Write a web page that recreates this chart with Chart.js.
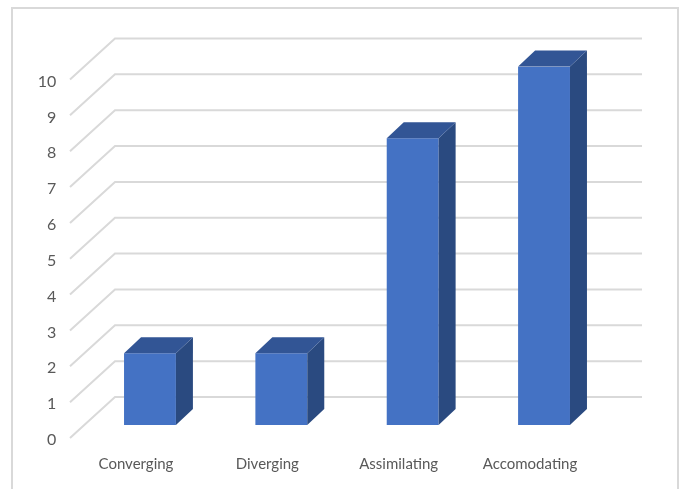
<!DOCTYPE html>
<html>
<head>
<meta charset="utf-8">
<style>
  html, body { margin: 0; padding: 0; background: #fff; overflow: hidden; }
  #box { width: 681px; height: 489px; }
</style>
</head>
<body>
<div id="box"><canvas id="estilos"></canvas></div>
<script src="https://cdn.jsdelivr.net/npm/chart.js@4"></script>
<script>
const categories = ['Converging', 'Diverging', 'Assimilating', 'Accomodating'];
const values = [2, 2, 8, 10];
const yTicks = [0, 1, 2, 3, 4, 5, 6, 7, 8, 9, 10];

// fake 3D depth in px
const depthX = 17;
const depthY = 16;

// border round the picture, open at the bottom
const frame = {
    id: 'frame',
    beforeDraw(chart) {
        const c = chart.ctx;
        c.save();
        c.strokeStyle = '#d9d9d9';
        c.lineWidth = 2;
        c.beginPath();
        c.moveTo(12, 489);
        c.lineTo(12, 8);
        c.lineTo(678, 8);
        c.lineTo(678, 489);
        c.stroke();
        c.restore();
    }
};

// floor lines and back wall, from the y scale
const wall = {
    id: 'wall',
    beforeDatasetsDraw(chart) {
        const c = chart.ctx;
        const y = chart.scales.y;
        c.save();
        c.strokeStyle = '#d9d9d9';
        c.lineWidth = 2;
        yTicks.forEach(t => {
            const py = y.getPixelForValue(t);
            c.beginPath();
            c.moveTo(70, py + 13);
            c.lineTo(115, py - 28);
            c.lineTo(642, py - 28);
            c.stroke();
        });
        c.restore();
    }
};

// side and top faces of each bar
const faces = {
    id: 'faces',
    afterDatasetsDraw(chart) {
        const c = chart.ctx;
        chart.getDatasetMeta(0).data.forEach(bar => {
            const l = bar.x - bar.width / 2;
            const r = bar.x + bar.width / 2;
            c.fillStyle = '#2a4a80';
            c.beginPath();
            c.moveTo(r, bar.y);
            c.lineTo(r + depthX, bar.y - depthY);
            c.lineTo(r + depthX, bar.base - depthY);
            c.lineTo(r, bar.base);
            c.closePath();
            c.fill();
            c.fillStyle = '#325595';
            c.beginPath();
            c.moveTo(l, bar.y);
            c.lineTo(l + depthX, bar.y - depthY);
            c.lineTo(r + depthX, bar.y - depthY);
            c.lineTo(r, bar.y);
            c.closePath();
            c.fill();
        });
    }
};

const ctx = document.getElementById('estilos').getContext('2d');

new Chart(ctx, {
    type: 'bar',
    data: {
        labels: categories,
        datasets: [{
            data: values,
            backgroundColor: '#4472c4',
            barPercentage: 0.395,
            categoryPercentage: 1
        }]
    },
    options: {
        responsive: true,
        maintainAspectRatio: false,
        animation: false,
        layout: { padding: { top: 66.5, right: 71.3, left: 0, bottom: 0 } },
        plugins: { legend: { display: false }, tooltip: { enabled: false } },
        scales: {
            x: {
                grid: { display: false, drawTicks: false },
                border: { display: false },
                afterFit(s) { s.height = 64; },
                ticks: {
                    color: '#595959',
                    font: { family: 'Lato', size: 15 },
                    padding: 30,
                    labelOffset: -14,
                    maxRotation: 0
                }
            },
            y: {
                min: 0,
                max: 10,
                grid: { display: false, drawTicks: false },
                border: { display: false },
                afterFit(s) { s.width = 84.3; },
                afterBuildTicks(s) { s.ticks = yTicks.map(v => ({ value: v })); },
                ticks: {
                    color: '#595959',
                    font: { family: 'Lato', size: 16 },
                    padding: 28,
                    labelOffset: 15
                }
            }
        }
    },
    plugins: [frame, wall, faces]
});
</script>
</body>
</html>
